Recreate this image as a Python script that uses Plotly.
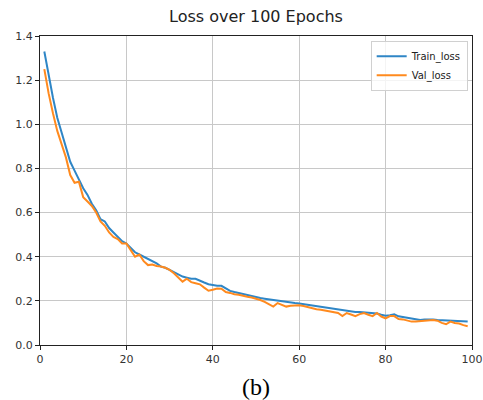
import plotly.graph_objects as go

epochs = list(range(1, 100))

train_loss = [
    1.33, 1.22, 1.12, 1.03, 0.96, 0.89, 0.83, 0.79, 0.75, 0.71,
    0.68, 0.64, 0.61, 0.57, 0.56, 0.53, 0.51, 0.49, 0.47, 0.46,
    0.44, 0.42, 0.41, 0.40, 0.39, 0.38, 0.37, 0.355, 0.35, 0.34,
    0.33, 0.32, 0.31, 0.305, 0.30, 0.30, 0.29, 0.283, 0.275, 0.27,
    0.268, 0.268, 0.255, 0.245, 0.24, 0.235, 0.23, 0.227, 0.222, 0.218,
    0.213, 0.21, 0.207, 0.204, 0.20, 0.197, 0.195, 0.19, 0.19, 0.188,
    0.185, 0.18, 0.178, 0.175, 0.172, 0.168, 0.165, 0.162, 0.16, 0.158,
    0.155, 0.152, 0.15, 0.15, 0.148, 0.146, 0.145, 0.143, 0.137, 0.133,
    0.135, 0.139, 0.13, 0.127, 0.125, 0.121, 0.118, 0.113, 0.115, 0.116,
    0.116, 0.113, 0.112, 0.11, 0.111, 0.109, 0.107, 0.106, 0.106,
]

val_loss = [
    1.25, 1.14, 1.05, 0.97, 0.91, 0.85, 0.77, 0.735, 0.74, 0.67,
    0.65, 0.63, 0.60, 0.56, 0.54, 0.51, 0.49, 0.48, 0.46, 0.46,
    0.43, 0.40, 0.41, 0.38, 0.362, 0.365, 0.358, 0.356, 0.35, 0.34,
    0.325, 0.305, 0.287, 0.30, 0.285, 0.28, 0.275, 0.26, 0.246, 0.25,
    0.256, 0.255, 0.24, 0.236, 0.23, 0.228, 0.222, 0.219, 0.215, 0.21,
    0.204, 0.195, 0.185, 0.174, 0.19, 0.183, 0.174, 0.178, 0.18, 0.18,
    0.177, 0.172, 0.165, 0.162, 0.16, 0.156, 0.151, 0.148, 0.145, 0.131,
    0.145, 0.138, 0.131, 0.14, 0.145, 0.137, 0.131, 0.145, 0.129, 0.121,
    0.131, 0.131, 0.118, 0.116, 0.112, 0.106, 0.107, 0.108, 0.11, 0.111,
    0.113, 0.11, 0.10, 0.094, 0.106, 0.10, 0.097, 0.09, 0.085,
]

x_ticks = [0, 20, 40, 60, 80, 100]
y_ticks = [0.0, 0.2, 0.4, 0.6, 0.8, 1.0, 1.2, 1.4]
y_ticklabels = ["0.0", "0.2", "0.4", "0.6", "0.8", "1.0", "1.2", "1.4"]

fig = go.Figure()
fig.add_trace(go.Scatter(x=epochs, y=train_loss, mode="lines", name="Train_loss",
                         line=dict(color="#2f86c6", width=2)))
fig.add_trace(go.Scatter(x=epochs, y=val_loss, mode="lines", name="Val_loss",
                         line=dict(color="#ff8a1e", width=2)))

axis_style = dict(
    showline=True, mirror=True, linecolor="#222", linewidth=1.2,
    showgrid=True, gridcolor="#c8c8c8", gridwidth=1,
    ticks="outside", ticklen=4, tickcolor="#222",
    tickfont=dict(family="DejaVu Sans", size=11, color="#333"),
    zeroline=False, automargin=False,
)

fig.update_xaxes(range=[0, 100], tickvals=x_ticks, **axis_style)
fig.update_yaxes(range=[0, 1.4], tickvals=y_ticks, ticktext=y_ticklabels, **axis_style)

fig.update_layout(
    width=483, height=400,
    margin=dict(l=40, r=11, t=36, b=55),
    paper_bgcolor="white", plot_bgcolor="white",
    title=dict(text="Loss over 100 Epochs", x=0.53, xanchor="center",
               y=0.96, yanchor="middle",
               font=dict(family="DejaVu Sans", size=16, color="#222")),
    legend=dict(x=0.99, y=0.985, xanchor="right", yanchor="top",
                bgcolor="rgba(255,255,255,0.8)", bordercolor="#d0d0d0", borderwidth=1,
                font=dict(family="DejaVu Sans", size=10, color="#222"),
                tracegroupgap=0, itemwidth=30),
    showlegend=True,
    annotations=[
        dict(text="(a)", xref="paper", yref="paper", x=0.5, y=1.17,
             showarrow=False, yanchor="middle",
             font=dict(family="Liberation Serif", size=20, color="black")),
        dict(text="(b)", xref="paper", yref="paper", x=0.5, y=-0.135,
             showarrow=False, yanchor="middle",
             font=dict(family="Liberation Serif", size=24, color="black")),
    ],
)

# no page margin, so the 483x400 figure fills the window exactly
fig.write_html("out.html",
               config={"displayModeBar": False, "responsive": False},
               post_script="document.body.style.margin='0';document.body.style.overflow='hidden';")
